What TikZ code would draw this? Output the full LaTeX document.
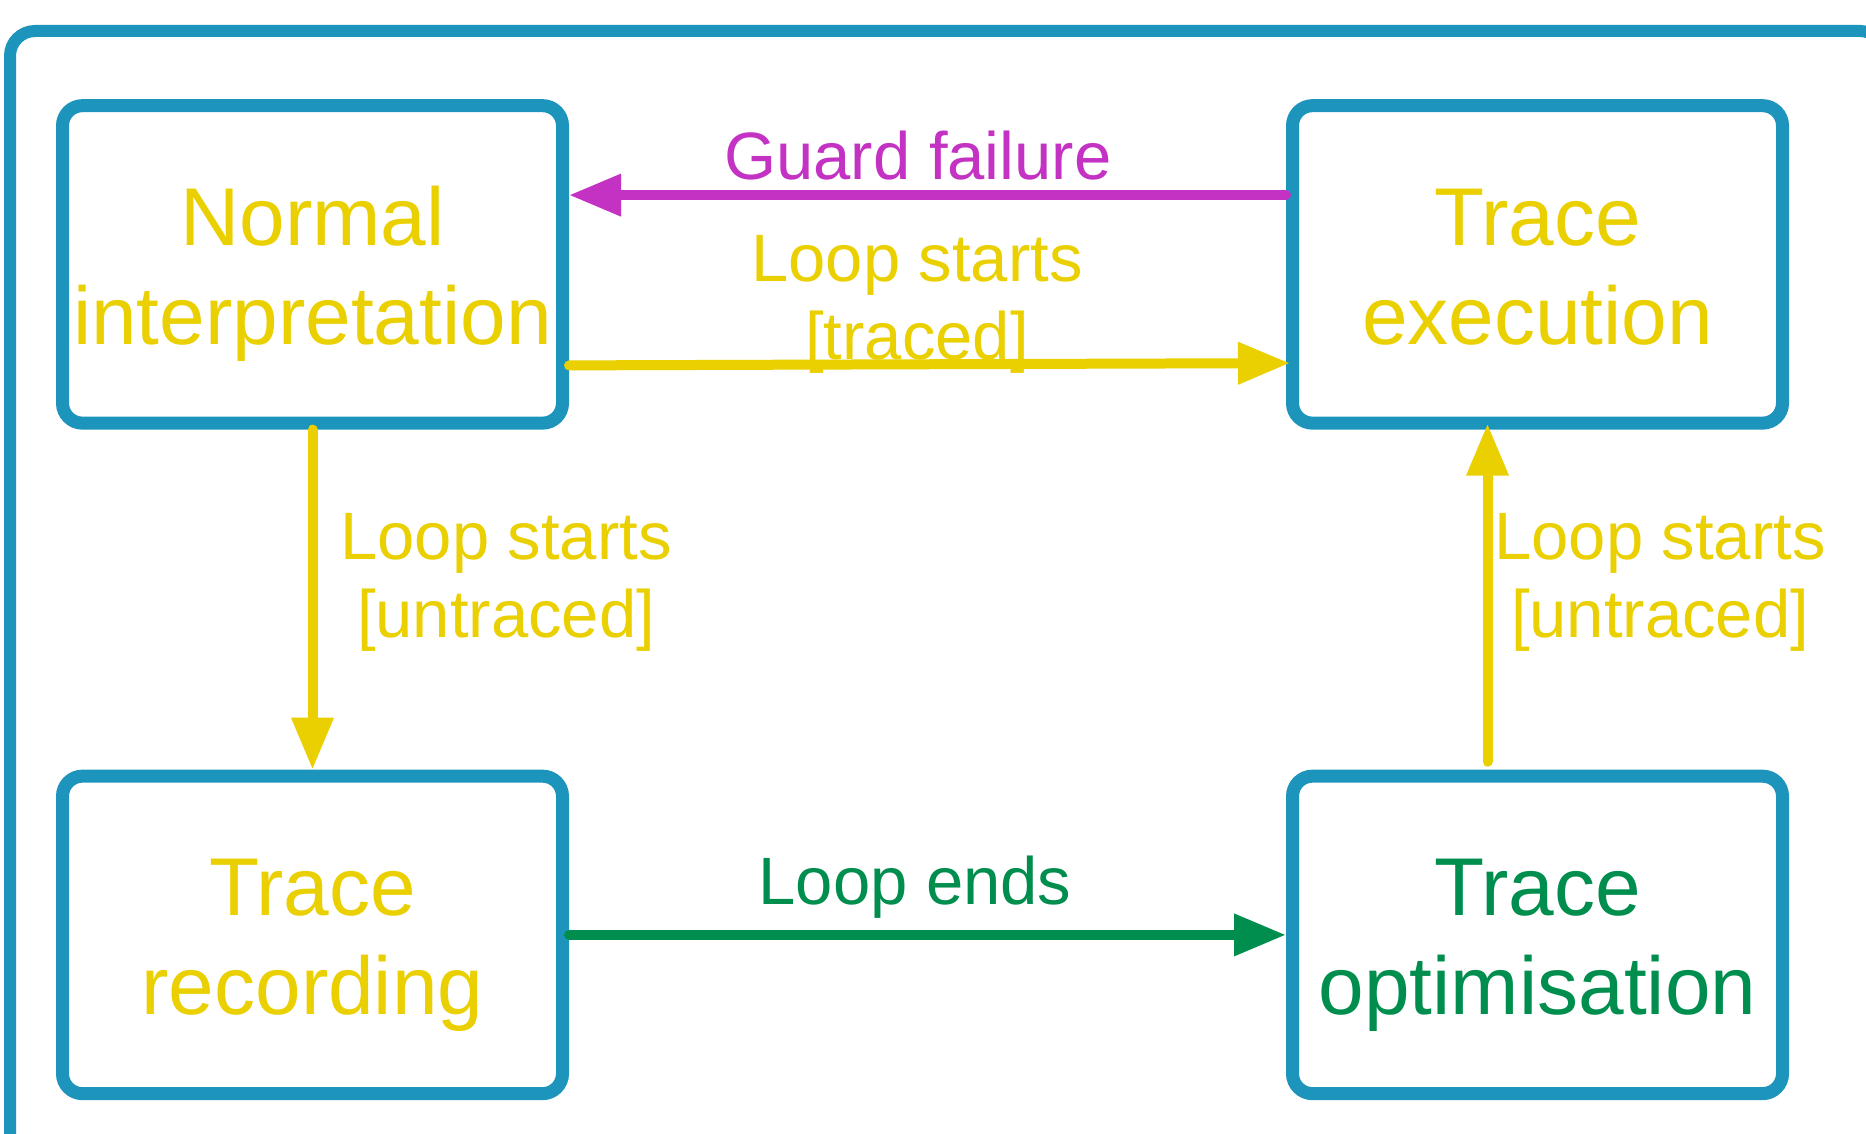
\documentclass[tikz,border=0pt]{standalone}
\usepackage{fontspec}
\setmainfont{Liberation Sans}
\usetikzlibrary{arrows.meta,calc}
\definecolor{frameblue}{RGB}{28,148,188}
\definecolor{tyellow}{RGB}{234,208,0}
\definecolor{tmagenta}{RGB}{196,50,196}
\definecolor{tgreen}{RGB}{0,142,78}
\newcommand\bxtop{\rule{0pt}{90.7pt}}
\newcommand\bxbot{\rule[-29.7pt]{0pt}{29.7pt}}
\newcommand\lbtop{\rule{0pt}{54.6pt}}
\newcommand\lbbot{\rule[-23.4pt]{0pt}{23.4pt}}
\begin{document}
\begin{tikzpicture}[x=1pt,y=-1pt,
  state/.style={draw=frameblue, line width=13pt, rounded corners=20pt,
    minimum height=317.5pt, inner sep=0pt, align=center,
    font=\fontsize{82}{99}\selectfont},
  lbl/.style={inner sep=0pt, align=center, font=\fontsize{67}{78}\selectfont},
  arr/.style={line width=10pt, line cap=round, -{Triangle[length=52pt,width=40pt]}}
]
\useasboundingbox (0,0) rectangle (1866,1134);
\fill[white] (0,0) rectangle (1866,1134);
\begin{scope}
\clip (0,0) rectangle (1866,1134);
\draw[frameblue, line width=12pt, rounded corners=25pt] (10,31) rectangle (1885,1200);
\end{scope}

\node[state, minimum width=500pt, text=tyellow] (NI) at (312.5,264.4) {\bxtop Normal\\ interpretation\bxbot};
\node[state, minimum width=490pt, text=tyellow] (TE) at (1537.5,264.4) {\bxtop Trace\\ execution\bxbot};
\node[state, minimum width=500pt, text=tyellow] (TR) at (312.5,934.9) {\bxtop Trace\\ recording\bxbot};
\node[state, minimum width=490pt, text=tgreen] (TO) at (1537.5,934.9) {\bxtop Trace\\ optimisation\bxbot};

\draw[arr, tmagenta] ($(TE.west)+(0,-69.3)$) -- ($(NI.east)+(0,-69.3)$);
\draw[arr, tyellow] ($(NI.east)+(0,101)$) -- ($(TE.west)+(4,98.7)$);
\draw[arr, tyellow] (NI.south) -- (TR.north);
\draw[arr, tyellow] ($(TO.north)+(-50,-8)$) -- ($(TE.south)+(-50,-6)$);
\draw[arr, tgreen] (TR.east) -- (TO.west);

\node[lbl, text=tmagenta] (gf) at (918,164.4) {\lbtop Guard failure\lbbot};
\node[lbl, text=tyellow] (lt) at (917,304.4) {\lbtop Loop starts\\ {[}traced]\lbbot};
\node[lbl, text=tyellow] (lu) at (506,582.4) {\lbtop Loop starts\\ {[}untraced]\lbbot};
\node[lbl, text=tyellow] (ru) at (1660,582.4) {\lbtop Loop starts\\ {[}untraced]\lbbot};
\node[lbl, text=tgreen] (le) at (915,888.4) {\lbtop Loop ends\lbbot};
\end{tikzpicture}
\end{document}
